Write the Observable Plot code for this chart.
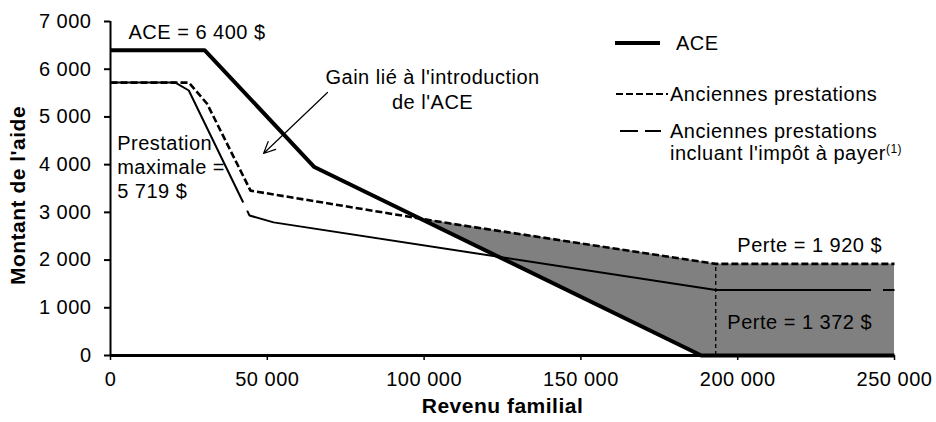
<!DOCTYPE html>
<html><head><meta charset="utf-8">
<script src="https://cdn.jsdelivr.net/npm/d3@7"></script>
<script src="https://cdn.jsdelivr.net/npm/@observablehq/plot@0.6"></script>
<style>body{margin:0;background:#fff} svg{display:block}</style>
</head><body><div id="chart"></div>
<script>
// ---- data ----
const aceX = [0, 30000, 65000, 188400, 250000];
const aceY = [6400, 6400, 3950, 0, 0];
const oldX = [0, 25000, 30800, 44640, 108000, 193000, 250000];
const oldY = [5719, 5719, 5276, 3455, 2770, 1920, 1920];
const taxX = [0, 20700, 24970, 44330, 52000, 193000, 250000];
const taxY = [5719, 5719, 5554, 2934, 2790, 1372, 1372];
const xTicks = [0, 50000, 100000, 150000, 200000, 250000];
const yTicks = [0, 1000, 2000, 3000, 4000, 5000, 6000, 7000];
const lossX = 193000, lossTop = 1920;
const seriesNames = ["ACE", "Anciennes prestations", "Anciennes prestations\nincluant l'impôt à payer"];
const notesStart = [
  {text: "ACE = 6 400 $", x: 5740, y: 6790},
  {text: "Prestation\nmaximale =\n5 719 $", x: 2130, y: 3961}
];
const notesMiddle = [
  {text: "Gain lié à l'introduction\nde l'ACE", x: 102700, y: 5606},
  {text: "Perte = 1 920 $", x: 222960, y: 2341},
  {text: "Perte = 1 372 $", x: 219770, y: 719}
];
const gainArrow = [{x1: 69200, y1: 5512, x2: 48800, y2: 4234}];

// ---- build tables ----
const toRows = (xs, ys) => xs.map((x, i) => ({x, y: ys[i]}));
const aceData = toRows(aceX, aceY), oldData = toRows(oldX, oldY), taxData = toRows(taxX, taxY);
function interp(xs, ys, x) {
  for (let i = 1; i < xs.length; i++) if (x <= xs[i]) {
    const t = (x - xs[i-1]) / (xs[i] - xs[i-1]); return ys[i-1] + t * (ys[i] - ys[i-1]);
  }
  return ys[ys.length - 1];
}
const grid = Array.from(new Set([...aceX, ...oldX])).sort((a, b) => a - b);
let cross = 0;
for (let i = 1; i < grid.length; i++) {
  const a = grid[i-1], b = grid[i];
  const da = interp(oldX, oldY, a) - interp(aceX, aceY, a), db = interp(oldX, oldY, b) - interp(aceX, aceY, b);
  if (da <= 0 && db > 0) { cross = a + (b - a) * (-da) / (db - da); break; }
}
const areaData = [cross, ...grid.filter(x => x > cross)].map(x => ({x, lo: interp(aceX, aceY, x), hi: interp(oldX, oldY, x)}));

const fmt = d => d3.format(",")(d).replace(/,/g, " ");
const font = "'Liberation Sans', Arial, sans-serif";

const plot = Plot.plot({
  width: 936, height: 422,
  marginLeft: 110, marginRight: 42, marginTop: 21, marginBottom: 67,
  style: {fontFamily: font, fontSize: "20px", color: "#000", background: "#fff", letterSpacing: "0.5px"},
  x: {domain: [0, 250000]},
  y: {domain: [0, 7000]},
  marks: [
    Plot.areaY(areaData, {x: "x", y1: "lo", y2: "hi", fill: "#808080"}),
    Plot.line(taxData, {x: "x", y: "y", stroke: "#000", strokeWidth: 2, strokeDasharray: "205,9,633,12,200", strokeLinecap: "butt"}),
    Plot.line(oldData, {x: "x", y: "y", stroke: "#000", strokeWidth: 2.6, strokeDasharray: "7,3", strokeLinecap: "butt"}),
    Plot.ruleX([lossX], {y1: 0, y2: lossTop, stroke: "#000", strokeWidth: 1.3, strokeDasharray: "4,3"}),
    Plot.line(aceData, {x: "x", y: "y", stroke: "#000", strokeWidth: 4, strokeLinecap: "butt"}),
    Plot.ruleY([0], {stroke: "#000", strokeWidth: 3}),
    Plot.ruleX([0], {stroke: "#000", strokeWidth: 2}),
    Plot.axisY(yTicks, {tickSize: 6, tickPadding: 13, tickFormat: fmt, strokeWidth: 2, fontSize: 20, label: null}),
    Plot.axisX(xTicks, {tickSize: 5, tickPadding: 11, tickFormat: fmt, strokeWidth: 1.5, fontSize: 20, label: null}),
    Plot.text(notesStart, {x: "x", y: "y", text: "text", textAnchor: "start", lineHeight: 1.2, fontSize: 20, fill: "#000"}),
    Plot.text(notesMiddle, {x: "x", y: "y", text: "text", textAnchor: "middle", lineHeight: 1.25, fontSize: 20, fill: "#000"}),
    Plot.arrow(gainArrow, {x1: "x1", y1: "y1", x2: "x2", y2: "y2", stroke: "#000", strokeWidth: 1.2, headLength: 16, headAngle: 50}),
    Plot.text(["Montant de l'aide"], {frameAnchor: "left", dx: -92.5, dy: 7, rotate: -90, textAnchor: "middle", lineAnchor: "middle", fontWeight: "bold", fontSize: 21, fill: "#000"}),
    Plot.text(["Revenu familial"], {frameAnchor: "bottom", dy: 51, textAnchor: "middle", lineAnchor: "middle", fontWeight: "bold", fontSize: 21, fill: "#000"})
  ]
});

// ---- legend ----
const svg = d3.select(plot);
const lg = svg.append("g").attr("font-family", font).attr("font-size", 20).attr("fill", "#000").attr("text-anchor", "start");
lg.append("line").attr("x1", 615).attr("x2", 660).attr("y1", 43).attr("y2", 43).attr("stroke", "#000").attr("stroke-width", 4);
lg.append("text").attr("x", 676).attr("y", 43).attr("dy", "0.35em").text(seriesNames[0]);
lg.append("line").attr("x1", 616).attr("x2", 668).attr("y1", 94).attr("y2", 94).attr("stroke", "#000").attr("stroke-width", 2).attr("stroke-dasharray", "7,3");
lg.append("text").attr("x", 670).attr("y", 94).attr("dy", "0.35em").text(seriesNames[1]);
lg.append("line").attr("x1", 620).attr("x2", 661).attr("y1", 131).attr("y2", 131).attr("stroke", "#000").attr("stroke-width", 2).attr("stroke-dasharray", "18,7");
const [l1, l2] = seriesNames[2].split("\n");
lg.append("text").attr("x", 670).attr("y", 131).attr("dy", "0.35em").text(l1);
const t2 = lg.append("text").attr("x", 670).attr("y", 153).attr("dy", "0.35em");
t2.append("tspan").text(l2);
t2.append("tspan").attr("font-size", 12).attr("dy", "-0.6em").text("(1)");

document.getElementById("chart").appendChild(plot);
</script></body></html>
